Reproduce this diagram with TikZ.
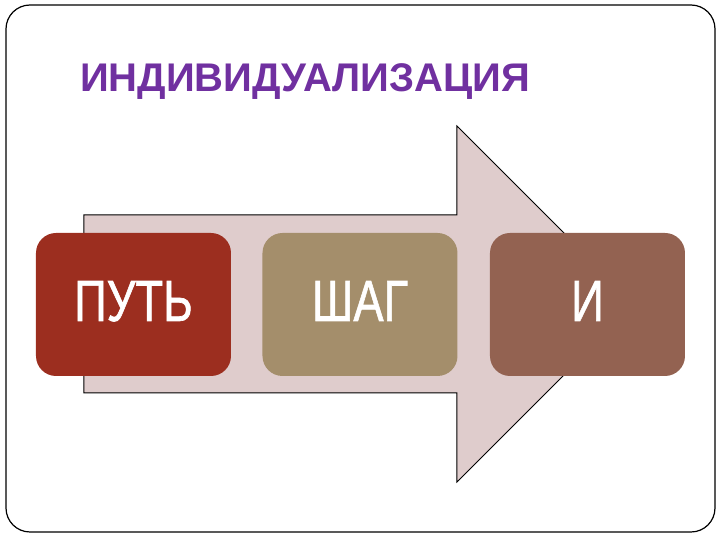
\documentclass[tikz,border=0pt]{standalone}
\usepackage{fontspec}
\setmainfont{Liberation Sans}
\newfontfamily\stagefont[FakeBold=1.2]{Liberation Sans}
\usepackage{graphicx}
\usetikzlibrary{positioning}

\definecolor{titlepurple}{HTML}{7030A0}
\definecolor{arrowpink}{HTML}{DFCCCC}
\definecolor{pathred}{HTML}{9C2E1F}
\definecolor{stepkhaki}{HTML}{A48E6B}
\definecolor{ibrown}{HTML}{936251}

\tikzset{
  stagebox/.style={rounded corners=10pt, minimum width=97.5pt, minimum height=71.5pt,
    inner sep=0pt, text=white, font=\stagefont\fontsize{29}{29}\selectfont},
}
\newcommand{\narrow}[1]{\raisebox{3.5pt}{\scalebox{0.78}[1]{#1}}}

\begin{document}
\begin{tikzpicture}[x=0.5pt,y=-0.5pt]
  \useasboundingbox (0,0) rectangle (720,540);

  % frame
  \draw [line width=0.6pt, rounded corners=12pt] (6,5) rectangle (715,532);

  % title
  \node [text=titlepurple, font=\bfseries\fontsize{20}{20}\selectfont, anchor=west]
    (title) at (73,82) {ИНДИВИДУАЛИЗАЦИЯ};

  % big arrow
  \coordinate (A1) at (84,215);
  \coordinate (A2) at (457,215);
  \coordinate (A3) at (457,126);
  \coordinate (tip) at (635,304);
  \coordinate (A4) at (457,482);
  \coordinate (A5) at (457,393);
  \coordinate (A6) at (84,393);
  \draw [fill=arrowpink, line width=0.5pt] (A1) -- (A2) -- (A3) -- (tip) -- (A4) -- (A5) -- (A6) -- cycle;

  % stages
  \node [stagebox, fill=pathred] (put) at (133.5,304.5) {\narrow{ПУТЬ}};
  \node [stagebox, fill=stepkhaki] (shag) at (360,304.5) {\narrow{ШАГ}};
  \node [stagebox, fill=ibrown] (i) at (587.5,304.5) {\narrow{И}};
\end{tikzpicture}
\end{document}
